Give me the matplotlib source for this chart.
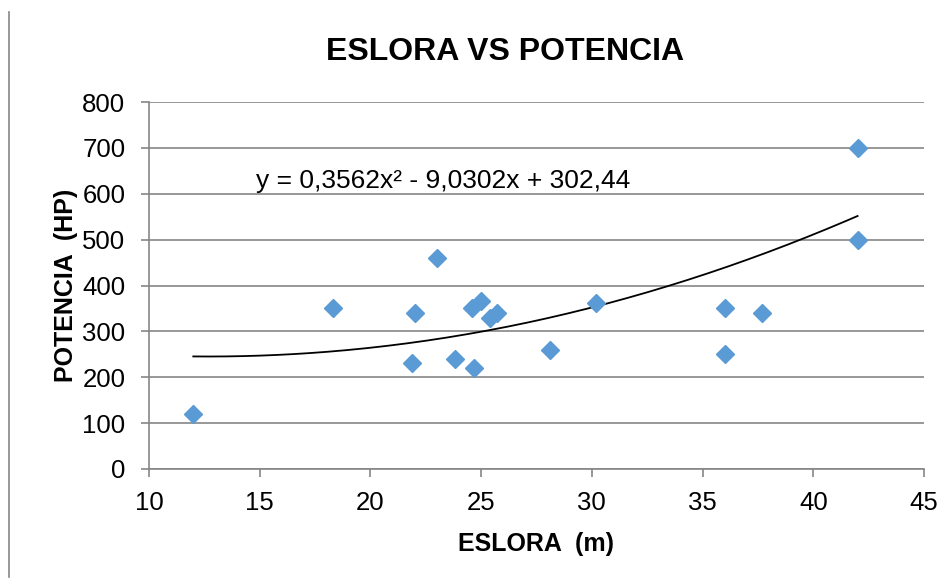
import numpy as np
import matplotlib
matplotlib.use("Agg")
import matplotlib.pyplot as plt
from matplotlib.lines import Line2D

plt.rcParams['font.family'] = ['Liberation Sans', 'DejaVu Sans']

eslora = [12.0, 18.3, 22.0, 21.9, 23.0, 23.8, 24.7, 24.6, 25.0, 25.4, 25.7,
          28.1, 30.2, 36.0, 36.0, 37.7, 42.0, 42.0]
potencia = [120, 350, 340, 230, 460, 240, 220, 350, 367, 330, 340,
            260, 362, 350, 250, 340, 700, 500]
trend_coef = [0.3562, -9.0302, 302.44]
trend_label = "y = 0,3562x\u00b2 - 9,0302x + 302,44"
xticks = [10, 15, 20, 25, 30, 35, 40, 45]
yticks = [0, 100, 200, 300, 400, 500, 600, 700, 800]

fig = plt.figure(figsize=(9.53, 5.8), dpi=100)
ax = fig.add_axes([149/953, 1-469/580, (924-149)/953, (469-102)/580])

gray = '#868686'
ax.set_xlim(10, 45)
ax.set_ylim(0, 800)
ax.set_xticks(xticks)
ax.set_yticks(yticks)
ax.grid(axis='y', color=gray, lw=1.2)
ax.set_axisbelow(True)
for s in ['top', 'right']:
    ax.spines[s].set_visible(False)
for s in ['left', 'bottom']:
    ax.spines[s].set_color(gray)
    ax.spines[s].set_linewidth(1.2)
ax.tick_params(axis='both', color=gray, width=1.2, length=6, labelsize=18.5)
ax.tick_params(axis='x', pad=10)
ax.tick_params(axis='y', pad=11)

xs = np.linspace(min(eslora), max(eslora), 200)
ax.plot(xs, np.polyval(trend_coef, xs), color='black', lw=1.3, zorder=2)
ax.plot(eslora, potencia, linestyle='none', marker='D', markersize=9,
        color='#5B9BD5', zorder=3, clip_on=False)

ax.text(14.85, 628, trend_label, fontsize=19, va='center', ha='left')

ax.set_xlabel('ESLORA  (m)', fontsize=18, fontweight='bold', labelpad=12)
ax.set_ylabel('POTENCIA  (HP)', fontsize=18, fontweight='bold', labelpad=3)
fig.text(505/953, 1-52/580, 'ESLORA VS POTENCIA', fontsize=23,
         fontweight='bold', ha='center', va='center')

fig.add_artist(Line2D([9/953, 9/953], [1-12/580, 1-577/580], color=gray, lw=1.2))

fig.savefig('out.png', dpi=100)
